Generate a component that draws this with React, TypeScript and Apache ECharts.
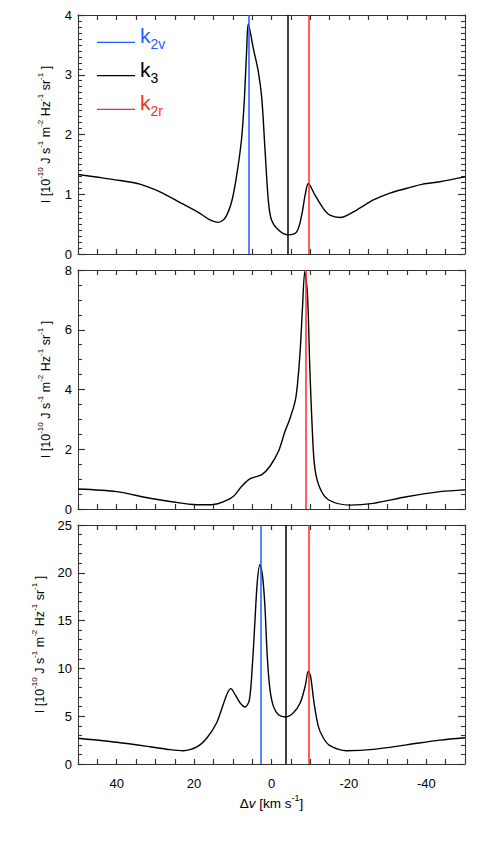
import React, { useEffect, useRef } from 'react';
import * as echarts from 'echarts';

const FONT = '"Liberation Sans", Arial, Helvetica, sans-serif';
const BLUE = '#1f5cff';
const RED = '#ff2b1f';
const BLACK = '#000000';
const FRAME = '#333333';

// x tick labels shown on the bottom panel
const xTickLabels = [40, 20, 0, -20, -40];

// [Δv (km/s), I (1e-10 J s^-1 m^-2 Hz^-1 sr^-1)]
const topProfile: [number, number][] = [
  [50, 1.33], [44.3, 1.28], [39.1, 1.23], [34, 1.17], [28.8, 1.04], [23.6, 0.86], [18.5, 0.68],
  [15.9, 0.57], [13.8, 0.53], [12.0, 0.6], [10.2, 0.9], [8.8, 1.4], [7.7, 1.95], [7.0, 2.6],
  [6.4, 3.44], [6.0, 3.85], [4.7, 3.44], [3.4, 3.05], [2.5, 2.6], [1.7, 1.77], [0.8, 0.88],
  [0.0, 0.57], [-1.8, 0.4], [-4.3, 0.32], [-6.5, 0.37], [-7.8, 0.65], [-8.7, 0.99], [-9.5, 1.18],
  [-11.2, 0.99], [-13.4, 0.76], [-15.1, 0.65], [-17.7, 0.61], [-22.1, 0.74], [-26.2, 0.9],
  [-30.6, 1.02], [-35, 1.1], [-39.1, 1.17], [-43.5, 1.21], [-50, 1.29],
];

const midProfile: [number, number][] = [
  [50, 0.67], [40, 0.58], [31.4, 0.36], [22.8, 0.19], [18.5, 0.14], [15, 0.15], [12.5, 0.24],
  [9.9, 0.42], [7.7, 0.76], [5.6, 1.01], [2.5, 1.15], [0.4, 1.43], [-1.8, 1.93], [-3.5, 2.6],
  [-4.8, 3.04], [-6.1, 3.6], [-6.7, 4.16], [-7.4, 5.27], [-8.0, 6.72], [-8.6, 7.95], [-9.3, 7.17],
  [-9.9, 4.72], [-10.6, 2.48], [-11.2, 1.37], [-12.5, 0.7], [-14.7, 0.31], [-20.3, 0.13],
  [-26.3, 0.19], [-34.9, 0.41], [-43.5, 0.58], [-50, 0.64],
];

const botProfile: [number, number][] = [
  [50, 2.69], [40, 2.27], [31.4, 1.81], [26.2, 1.5], [22.8, 1.39], [19.3, 1.78], [16.7, 2.72],
  [14.2, 4.29], [12.5, 6.2], [11.4, 7.4], [10.5, 7.88], [9.4, 7.25], [8.1, 6.38], [6.8, 5.96],
  [5.7, 6.73], [4.9, 10.6], [4.3, 14.75], [3.7, 18.9], [3.0, 20.85], [2.3, 19.6], [1.7, 16.5],
  [1.1, 11.3], [0.4, 7.8], [-0.5, 6.03], [-1.8, 5.16], [-3.7, 4.92], [-5.6, 5.33], [-7.4, 6.38],
  [-8.7, 8.13], [-9.5, 9.7], [-10.1, 9.17], [-11.0, 6.38], [-12.1, 3.94], [-13.4, 2.72],
  [-15.1, 1.92], [-19.4, 1.39], [-26.3, 1.53], [-34.9, 2.0], [-43.5, 2.5], [-50, 2.75],
];

// marker positions (km/s)
const topMarks: [string, number][] = [['k2v', 6.0], ['k3', -4.3], ['k2r', -9.5]];
const midMarks: [string, number][] = [['k2r', -8.8]];
const botMarks: [string, number][] = [['k2v', 2.8], ['k3', -3.7], ['k2r', -9.7]];

const yMaxes = [4, 8, 25];
const yIntervals = [1, 2, 5];
const yMinorSplits = [10, 4, 5];

const legendNames = ['k2v', 'k3', 'k2r'];
const legendSubs = ['2v', '3', '2r'];

const markColor: Record<string, string> = { k2v: BLUE, k3: BLACK, k2r: RED };

const yName =
  '{n|I [10}{s|-10}{n| J s}{s|-1}{n| m}{s|-2}{n| Hz}{s|-1}{n| sr}{s|-1}{n| ]}';
const xName = '{x|\u0394}{xi|v}{x| [km s}{xs|-1}{x|]}';

const nameRich = {
  n: { fontSize: 12.5, lineHeight: 20, fontFamily: FONT, color: '#000' },
  s: { fontSize: 8, lineHeight: 8, fontFamily: FONT, color: '#000', verticalAlign: 'top' },
  x: { fontSize: 13.5, lineHeight: 20, fontFamily: FONT, color: '#000' },
  xi: { fontSize: 13.5, lineHeight: 20, fontFamily: FONT, color: '#000', fontStyle: 'italic' },
  xs: { fontSize: 9, lineHeight: 9, fontFamily: FONT, color: '#000', verticalAlign: 'top' },
};

export default function App() {
  const ref = useRef<HTMLDivElement>(null);
  useEffect(() => {
    const chart = echarts.init(ref.current!, null, { renderer: 'svg' });
    const profiles = [topProfile, midProfile, botProfile];
    const marks = [topMarks, midMarks, botMarks];
    const gridTops = [15, 270, 525];
    const grids: any[] = [];
    const xAxes: any[] = [];
    const yAxes: any[] = [];
    const series: any[] = [];

    profiles.forEach((data, i) => {
      grids.push({ left: 78, right: 15, top: gridTops[i], height: 239 });
      const xBase = {
        gridIndex: i,
        type: 'value',
        min: -50,
        max: 50,
        interval: 5,
        inverse: true,
        axisLine: { show: true, onZero: false, lineStyle: { color: FRAME, width: 1 } },
        axisTick: { show: true, inside: true, length: 5, lineStyle: { color: FRAME, width: 1.2 } },
        splitLine: { show: false },
      };
      xAxes.push({
        ...xBase,
        position: 'bottom',
        axisLabel: {
          show: i === 2,
          margin: 13,
          fontSize: 13,
          fontFamily: FONT,
          color: '#000',
          formatter: (v: number) => (xTickLabels.includes(v) ? String(v) : ''),
        },
        name: i === 2 ? xName : '',
        nameLocation: 'middle',
        nameGap: 29,
        nameTextStyle: { fontFamily: FONT, color: '#000', rich: nameRich },
      });
      xAxes.push({ ...xBase, position: 'top', axisLabel: { show: false } });

      const yBase = {
        gridIndex: i,
        type: 'value',
        min: 0,
        max: yMaxes[i],
        interval: yIntervals[i],
        axisLine: { show: true, onZero: false, lineStyle: { color: FRAME, width: 1 } },
        axisTick: { show: true, inside: true, length: 7, lineStyle: { color: FRAME, width: 1.2 } },
        minorTick: {
          show: true,
          splitNumber: yMinorSplits[i],
          length: 4,
          lineStyle: { color: FRAME, width: 1.1 },
        },
        splitLine: { show: false },
        minorSplitLine: { show: false },
      };
      yAxes.push({
        ...yBase,
        position: 'left',
        axisLabel: { show: true, margin: 6, fontSize: 13, fontFamily: FONT, color: '#000' },
        name: yName,
        nameLocation: 'middle',
        nameRotate: 90,
        nameGap: 22,
        nameTextStyle: { fontFamily: FONT, color: '#000', rich: nameRich },
      });
      yAxes.push({ ...yBase, position: 'right', axisLabel: { show: false } });

      series.push({
        type: 'line',
        xAxisIndex: 2 * i,
        yAxisIndex: 2 * i,
        data,
        symbol: 'none',
        showSymbol: false,
        smooth: 0.3,
        clip: true,
        silent: true,
        lineStyle: { color: BLACK, width: 1.4 },
        markLine: {
          silent: true,
          symbol: ['none', 'none'],
          label: { show: false },
          emphasis: { disabled: true },
          lineStyle: { type: 'solid', width: 1.5 },
          data: marks[i].map(([name, v]) => ({
            name,
            xAxis: v,
            lineStyle: { color: markColor[name], type: 'solid', width: 1.5 },
          })),
        },
      });
    });

    const legendLineY = [42.3, 75.7, 109.3];
    const graphic: any[] = [];
    legendNames.forEach((name, j) => {
      const c = markColor[name];
      graphic.push({
        type: 'line',
        silent: true,
        shape: { x1: 97, y1: legendLineY[j], x2: 135, y2: legendLineY[j] },
        style: { stroke: c, lineWidth: 1.3 },
      });
      graphic.push({
        type: 'text',
        silent: true,
        x: 140,
        y: legendLineY[j] - 6.6,
        style: {
          text: `{k|k}{s|${legendSubs[j]}}`,
          align: 'left',
          verticalAlign: 'middle',
          fill: c,
          rich: {
            k: { fontSize: 21, lineHeight: 31, fontFamily: FONT, fill: c },
            s: { fontSize: 14, lineHeight: 14, fontFamily: FONT, fill: c, verticalAlign: 'bottom' },
          },
        },
      });
    });

    chart.setOption({
      animation: false,
      backgroundColor: '#ffffff',
      grid: grids,
      xAxis: xAxes,
      yAxis: yAxes,
      series,
      graphic,
    });
    return () => chart.dispose();
  }, []);
  return (
    <div
      ref={ref}
      style={{ position: 'fixed', left: 0, top: 0, width: 480, height: 842, background: '#fff' }}
    />
  );
}
